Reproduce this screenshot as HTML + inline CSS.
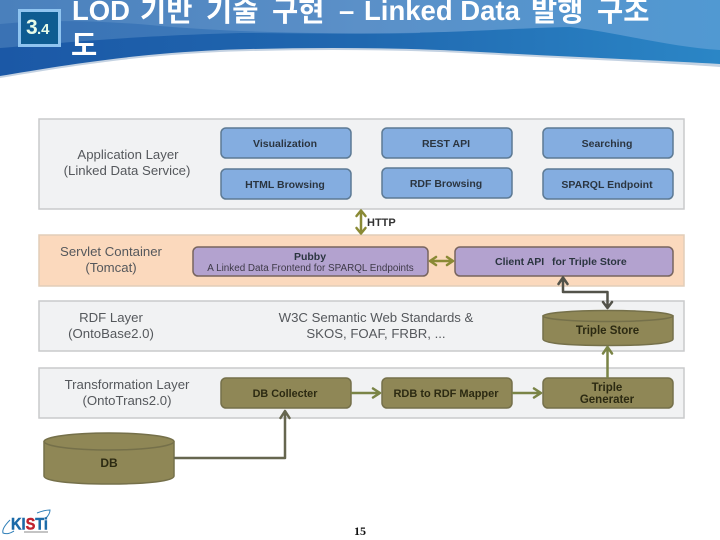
<!DOCTYPE html>
<html lang="ko">
<head>
<meta charset="utf-8">
<style>
html,body{margin:0;padding:0;background:#fff;}
svg{display:block;}
text{font-family:"Liberation Sans","Noto Sans CJK KR",sans-serif;}
.b{font-weight:bold;font-size:10.500px;text-anchor:middle;fill:#2b3540;}
.o{font-weight:bold;font-size:10.800px;text-anchor:middle;fill:#2c2a12;}
.l{font-size:13.200px;text-anchor:middle;fill:#55585c;}
.t{font-weight:bold;font-size:27.500px;fill:#fff;}
.k{font-weight:bold;font-size:28.500px;fill:#fff;}
.d{filter:blur(0.3px);}
</style>
</head>
<body>
<svg width="720" height="540" viewBox="0 0 720 540" xmlns="http://www.w3.org/2000/svg">
<defs>
<linearGradient id="hd" x1="0" y1="0" x2="1" y2="0">
<stop offset="0" stop-color="#1b58a6"/><stop offset="0.5" stop-color="#2068b0"/><stop offset="1" stop-color="#2b86c6"/>
</linearGradient>
<linearGradient id="hm" x1="0" y1="0" x2="1" y2="0">
<stop offset="0" stop-color="#3a72b4"/><stop offset="1" stop-color="#3f7fbf"/>
</linearGradient>
<linearGradient id="hl" x1="0" y1="0" x2="1" y2="0">
<stop offset="0" stop-color="#4a80bc"/><stop offset="0.5" stop-color="#5b90c8"/><stop offset="1" stop-color="#5199d2"/>
</linearGradient>
</defs>
<rect width="720" height="540" fill="#fff"/>
<path d="M0 78C60 68 130 56 220 52C300 49 400 49 480 54C570 59 650 62 720 67V0H0Z" fill="#c4d2e2"/>
<path d="M0 76C60 66 130 54 220 50C300 47 400 47 480 52C570 57 650 60 720 64V0H0Z" fill="url(#hd)"/>
<path d="M0 48C60 43 130 36 240 33C300 33 360 35 420 33L420 0H0Z" fill="url(#hm)"/>
<path d="M0 24C40 20 90 20 150 25C220 32 320 34 400 33C470 32 520 28 570 27C620 33 670 47 720 50V0H0Z" fill="url(#hl)"/>
<rect x="19.500" y="10.500" width="40" height="35" fill="#0e5c92" stroke="#8fc4f0" stroke-width="3"/>
<text x="26" y="34" font-weight="bold" font-size="21" fill="#e6fbe8">3</text>
<text x="37" y="34" font-weight="bold" font-size="15" fill="#e6fbe8">.4</text>
<text class="t" x="72" y="20" textLength="58" lengthAdjust="spacingAndGlyphs">LOD</text>
<text class="k" x="140" y="21">기반</text>
<text class="k" x="206" y="21">기술</text>
<text class="k" x="272" y="21">구현</text>
<text class="t" x="339" y="20">–</text>
<text class="t" x="364" y="20">Linked Data</text>
<text class="k" x="531" y="21">발행</text>
<text class="k" x="597" y="21">구조</text>
<text class="k" x="71" y="55">도</text>

<g class="d">
<g stroke="#c9cacb" stroke-width="1.500" fill="#f1f2f3">
<rect x="39" y="119" width="645" height="90"/>
<rect x="39" y="301" width="645" height="50"/>
<rect x="39" y="368" width="645" height="50"/>
</g>
<rect x="39" y="235" width="645" height="51" fill="#fbd9bd" stroke="#e2cdb9" stroke-width="1.500"/>

<g fill="#84ade0" stroke="#5d7a94" stroke-width="1.500">
<rect x="221" y="128" width="130" height="30" rx="5"/>
<rect x="221" y="169" width="130" height="30" rx="5"/>
<rect x="382" y="128" width="130" height="30" rx="5"/>
<rect x="382" y="168" width="130" height="30" rx="5"/>
<rect x="543" y="128" width="130" height="30" rx="5"/>
<rect x="543" y="169" width="130" height="30" rx="5"/>
</g>
<g fill="#b3a2cf" stroke="#77645f" stroke-width="1.500">
<rect x="193" y="247" width="235" height="29" rx="5"/>
<rect x="455" y="247" width="218" height="29" rx="5"/>
</g>
<g fill="#8f8756" stroke="#75704a" stroke-width="1.500">
<rect x="221" y="378" width="130" height="30" rx="5"/>
<rect x="382" y="378" width="130" height="30" rx="5"/>
<rect x="543" y="378" width="130" height="30" rx="5"/>
<path d="M543 316V339C543 343 565 345.500 608 345.500C651 345.500 673 343 673 339V316Z"/>
<ellipse cx="608" cy="316" rx="65" ry="5.500"/>
<path d="M44 442V476C44 481 70 484 109 484C148 484 174 481 174 476V442Z"/>
<ellipse cx="109" cy="441.500" rx="65" ry="8.500"/>
</g>

<g fill="none" stroke-linecap="round" stroke-linejoin="round">
<g stroke="#8a8a35" stroke-width="2.500">
<path d="M361 212V232M356.500 216L361 210.500L365.500 216M356.500 228L361 233.500L365.500 228"/>
<path d="M431 261H452M436 257L430 261L436 265M447 257L453 261L447 265"/>
</g>
<g stroke="#7a8446" stroke-width="2.500">
<path d="M352 393H379M373 388.500L380 393L373 397.500"/>
<path d="M513 393H540M534 388.500L541 393L534 397.500"/>
<path d="M607.500 377V348M603 353.500L607.500 347L612 353.500"/>
</g>
<path d="M563 279V292H607.500V307M558.500 284L563 277.500L567.500 284M603 302L607.500 308L612 302" stroke="#53534a" stroke-width="2.500"/>
<path d="M175 458H285V412M280.500 418L285 411L289.500 418" stroke="#66664f" stroke-width="2.500"/>
</g>

<text class="l"><tspan x="128" y="159">Application Layer</tspan><tspan x="127" y="175">(Linked Data Service)</tspan></text>
<text class="l"><tspan x="111" y="256">Servlet Container</tspan><tspan x="111" y="272">(Tomcat)</tspan></text>
<text class="l"><tspan x="111" y="322">RDF Layer</tspan><tspan x="111" y="338">(OntoBase2.0)</tspan></text>
<text class="l"><tspan x="127" y="389">Transformation Layer</tspan><tspan x="127" y="405">(OntoTrans2.0)</tspan></text>
<text class="l"><tspan x="376" y="322">W3C Semantic Web Standards &amp;</tspan><tspan x="376" y="338">SKOS, FOAF, FRBR, ...</tspan></text>

<text class="b" x="285" y="147">Visualization</text>
<text class="b" x="285" y="188">HTML Browsing</text>
<text class="b" x="446" y="147">REST API</text>
<text class="b" x="446" y="187">RDF Browsing</text>
<text class="b" x="607" y="147">Searching</text>
<text class="b" x="607" y="188">SPARQL Endpoint</text>
<text x="367" y="226" font-weight="bold" font-size="11" fill="#333">HTTP</text>
<text class="b" x="310" y="260">Pubby</text>
<text x="310.500" y="271" font-size="9.900" text-anchor="middle" fill="#3e3a48">A Linked Data Frontend for SPARQL Endpoints</text>
<text class="b" x="495" y="265" style="text-anchor:start">Client API</text>
<text class="b" x="552" y="265" style="text-anchor:start">for Triple Store</text>
<text class="o" x="607.500" y="334" style="font-size:11.500px">Triple Store</text>
<text class="o" x="285" y="397">DB Collecter</text>
<text class="o" x="446" y="397" style="font-size:11px">RDB to RDF Mapper</text>
<text class="o" style="font-size:11.500px"><tspan x="607" y="391">Triple</tspan><tspan x="607" y="403">Generater</tspan></text>
<text class="o" x="109" y="467" style="font-size:12px">DB</text>
</g>

<path d="M10 520C5 525 2 530 3 533C8 535 12 532 14 531M37 513C42 511 47 510 50 510C50 513 48 516 46 518" fill="none" stroke="#2f7fb8" stroke-width="1"/>
<text x="11" y="529.500" font-weight="bold" font-size="17" fill="#1b6aa8" stroke="#1b6aa8" stroke-width="0.500" textLength="37" lengthAdjust="spacingAndGlyphs">KI<tspan fill="#c0232f" stroke="#c0232f">S</tspan>Ti</text>
<rect x="24" y="531.500" width="24" height="1" fill="#888"/>
<text x="360" y="535" style="font-family:'Liberation Serif',serif" font-weight="bold" font-size="12" text-anchor="middle" fill="#111">15</text>
</svg>
</body>
</html>
